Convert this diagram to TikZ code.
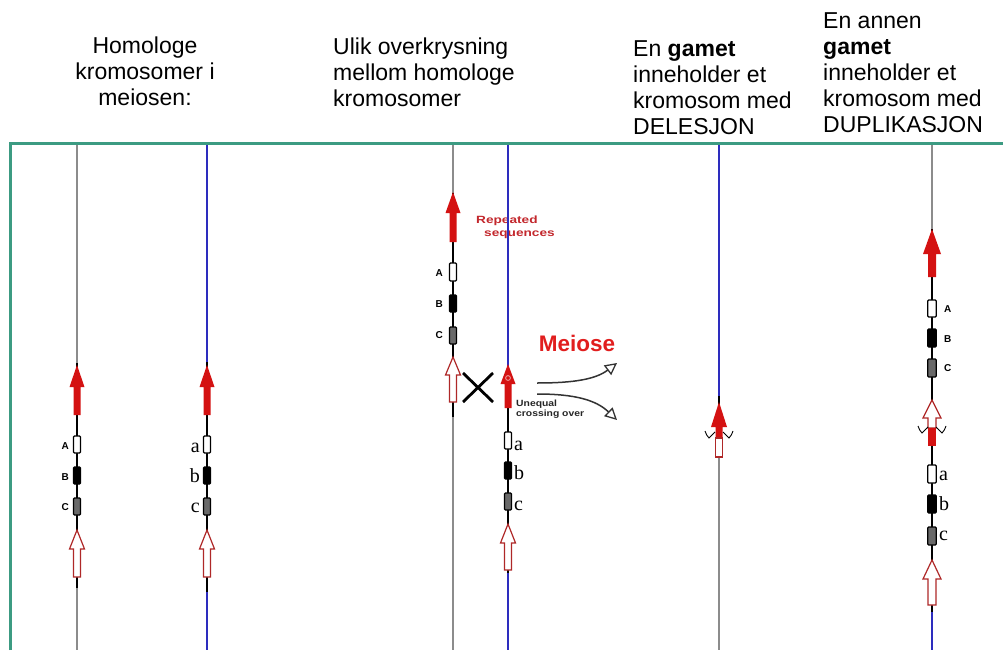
\documentclass[tikz,border=0pt]{standalone}
\usepackage{fontspec}
\setmainfont{Liberation Sans}
\newfontfamily\serifabc{Liberation Serif}
\usetikzlibrary{arrows.meta}

\definecolor{frameteal}{RGB}{60,155,130}
\definecolor{chromgrey}{RGB}{140,140,140}
\definecolor{chromblue}{RGB}{45,45,190}
\definecolor{seqred}{RGB}{212,18,18}
\definecolor{hollowred}{RGB}{175,40,40}
\definecolor{genegrey}{RGB}{105,105,105}
\definecolor{labelred}{RGB}{195,40,45}
\definecolor{meiosered}{RGB}{225,30,30}

% repeated sequence, filled: x, tip, head base, shaft end, head half width, shaft half width
\newcommand{\seqfilled}[6]{%
  \fill[seqred] (#1,#2) -- (#1+#5,#3) -- (#1+#6,#3) -- (#1+#6,#4) -- (#1-#6,#4)
    -- (#1-#6,#3) -- (#1-#5,#3) -- cycle;}
% repeated sequence, outlined
\newcommand{\seqhollow}[6]{%
  \filldraw[fill=white, draw=hollowred, line width=1.2pt, line join=miter]
    (#1,#2) -- (#1+#5,#3) -- (#1+#6,#3) -- (#1+#6,#4) -- (#1-#6,#4)
    -- (#1-#6,#3) -- (#1-#5,#3) -- cycle;}
% gene block: x, top, bottom, fill, half width
\newcommand{\geneblock}[5]{%
  \filldraw[fill=#4, draw=black, line width=1.3pt, rounded corners=1pt]
    (#1-#5,#2) rectangle (#1+#5,#3);}
% break marks on both sides of a chromosome
\newcommand{\breakmarks}[2]{%
  \draw[black, line width=0.9pt]
    (#1-14,#2-4) .. controls (#1-13,#2-1) and (#1-12,#2+1) .. (#1-10,#2+3)
      .. controls (#1-8,#2+1) and (#1-6,#2-1) .. (#1-4,#2-3)
    (#1+14,#2-4) .. controls (#1+13,#2-1) and (#1+12,#2+1) .. (#1+10,#2+3)
      .. controls (#1+8,#2+1) and (#1+6,#2-1) .. (#1+4,#2-3);}
% wide bold label text
\newcommand{\widetext}[1]{\scalebox{1.3}[1]{#1}}

\tikzset{
  chrom/.style={line width=2.8pt},
  heading/.style={font=\fontsize{23}{26}\selectfont, inner sep=0pt},
  caplabel/.style={font=\fontsize{10}{12}\selectfont\bfseries, inner sep=0pt},
  lowlabel/.style={font=\serifabc\fontsize{20}{22}\selectfont, inner sep=0pt},
  replabel/.style={font=\fontsize{10.5}{12}\selectfont\bfseries, text=labelred,
    anchor=west, inner sep=0pt},
  uneqlabel/.style={font=\fontsize{9}{10}\selectfont\bfseries, text=black!85,
    anchor=west, inner sep=0pt},
  curvearrow/.style={draw=black!80, line width=1.5pt,
    -{Triangle[open, length=12pt, width=12pt, line width=1.3pt]}},
}

\begin{document}
\begin{tikzpicture}[x=1pt, y=-1pt]
\useasboundingbox (0,0) rectangle (1003,650);
\fill[white] (0,0) rectangle (1003,650);

% ---------- headings ----------
\node[heading, anchor=north, align=center] (h1) at (145,37)
  {Homologe\\kromosomer i\\meiosen:};
\node[heading, anchor=north west, align=left] (h2) at (333,38)
  {Ulik overkrysning\\mellom homologe\\kromosomer};
\node[heading, anchor=north west, align=left] (h3) at (633,40)
  {En \textbf{gamet}\\inneholder et\\kromosom med\\DELESJON};
\node[heading, anchor=north west, align=left] (h4) at (823,12)
  {En annen\\\textbf{gamet}\\inneholder et\\kromosom med\\DUPLIKASJON};

% ---------- chromosome 1 (x=77) ----------
\draw[chrom, chromgrey] (77,143) -- (77,363);
\draw[chrom, black] (77,363) -- (77,588);
\draw[chrom, chromgrey] (77,588) -- (77,650);
\seqfilled{77}{365}{387}{415}{7.5}{3.5}
\geneblock{77}{436}{453}{white}{3.5}
\geneblock{77}{467}{484}{black}{3.5}
\geneblock{77}{498}{515}{genegrey}{3.5}
\seqhollow{77}{530}{549}{577}{7.5}{3.5}
\node[caplabel, anchor=east] (l1A) at (69,446) {A};
\node[caplabel, anchor=east] (l1B) at (69,477) {B};
\node[caplabel, anchor=east] (l1C) at (69,507) {C};

% ---------- chromosome 2 (x=207) ----------
\draw[chrom, chromblue] (207,143) -- (207,362);
\draw[chrom, black] (207,362) -- (207,592);
\draw[chrom, chromblue] (207,592) -- (207,650);
\seqfilled{207}{365}{387}{415}{7.5}{3.5}
\geneblock{207}{436}{453}{white}{3.5}
\geneblock{207}{467}{484}{black}{3.5}
\geneblock{207}{498}{515}{genegrey}{3.5}
\seqhollow{207}{530}{549}{577}{7.5}{3.5}
\node[lowlabel, anchor=base east] (l2a) at (200,452) {a};
\node[lowlabel, anchor=base east] (l2b) at (200,482) {b};
\node[lowlabel, anchor=base east] (l2c) at (200,512) {c};

% ---------- chromosome 3 (x=453) ----------
\draw[chrom, chromgrey] (453,143) -- (453,193);
\draw[chrom, black] (453,193) -- (453,417);
\draw[chrom, chromgrey] (453,417) -- (453,650);
\seqfilled{453}{192}{213}{242}{7.5}{3.5}
\geneblock{453}{263}{281}{white}{3.5}
\geneblock{453}{295}{312}{black}{3.5}
\geneblock{453}{327}{344}{genegrey}{3.5}
\seqhollow{453}{357}{375}{402}{7.5}{3.5}
\node[caplabel, anchor=east] (l3A) at (443,273) {A};
\node[caplabel, anchor=east] (l3B) at (443,304) {B};
\node[caplabel, anchor=east] (l3C) at (443,335) {C};

% labels over the crossing pair
\node[replabel, anchor=base west] (rep1) at (476,223) {\widetext{Repeated}};
\node[replabel, anchor=base west] (rep2) at (484,236) {\widetext{sequences}};

% ---------- chromosome 4 (x=508) ----------
\draw[chrom, chromblue] (508,143) -- (508,366);
\draw[chrom, black] (508,366) -- (508,573);
\draw[chrom, chromblue] (508,573) -- (508,650);
\seqfilled{508}{364}{384}{408}{7.5}{3.5}
\draw[white!55!seqred, line width=0.9pt] (508,378) circle (2.4);
\geneblock{508}{432}{449}{white}{3.5}
\geneblock{508}{462}{479}{black}{3.5}
\geneblock{508}{493}{510}{genegrey}{3.5}
\seqhollow{508}{524}{543}{570}{7.5}{3.5}
\node[lowlabel, anchor=base west] (l4a) at (514,450) {a};
\node[lowlabel, anchor=base west] (l4b) at (514,479) {b};
\node[lowlabel, anchor=base west] (l4c) at (514,510) {c};

% crossing mark
\coordinate (xa) at (463,373);
\coordinate (xb) at (493,402);
\coordinate (xc) at (463,402);
\coordinate (xd) at (493,373);
\draw[black, line width=2.8pt] (xa) -- (xb) (xc) -- (xd);

% meiosis label and the two products
\node[font=\fontsize{22.5}{24}\selectfont\bfseries, text=meiosered, inner sep=0pt]
  (meiose) at (577,343) {Meiose};
\coordinate (up0) at (537,383);
\coordinate (up1) at (617,363);
\coordinate (dn0) at (537,394);
\coordinate (dn1) at (617,420);
\draw[curvearrow] (up0) .. controls (575,383) and (596,379) .. (up1);
\draw[curvearrow] (dn0) .. controls (575,394) and (596,400) .. (dn1);
\node[uneqlabel, anchor=base west] (uneq1) at (516,406) {\scalebox{1.15}[1]{Unequal}};
\node[uneqlabel, anchor=base west] (uneq2) at (516,416) {\scalebox{1.15}[1]{crossing over}};

% ---------- chromosome 5: deletion (x=719) ----------
\draw[chrom, chromblue] (719,143) -- (719,396);
\draw[chrom, black] (719,396) -- (719,405);
\draw[chrom, chromgrey] (719,456) -- (719,650);
\seqfilled{719}{402}{427}{438}{8}{3.5}
\filldraw[fill=white, draw=hollowred, line width=1.2pt] (715.5,438) rectangle (722.5,457);
\breakmarks{719}{435}

% ---------- chromosome 6: duplication (x=932) ----------
\draw[chrom, chromgrey] (932,143) -- (932,229);
\draw[chrom, black] (932,229) -- (932,612);
\draw[chrom, chromblue] (932,612) -- (932,650);
\seqfilled{932}{229}{254}{277}{9}{4}
\geneblock{932}{300}{317}{white}{4.2}
\geneblock{932}{329}{347}{black}{4.2}
\geneblock{932}{359}{377}{genegrey}{4.2}
\node[caplabel, anchor=west] (l6A) at (944,309) {A};
\node[caplabel, anchor=west] (l6B) at (944,339) {B};
\node[caplabel, anchor=west] (l6C) at (944,368) {C};
\seqhollow{932}{400}{418}{428}{9}{4}
\fill[seqred] (928,428) rectangle (936,446);
\breakmarks{932}{430}
\geneblock{932}{465}{483}{white}{4.2}
\geneblock{932}{495}{513}{black}{4.2}
\geneblock{932}{527}{545}{genegrey}{4.2}
\node[lowlabel, anchor=base west] (l6a) at (939,480) {a};
\node[lowlabel, anchor=base west] (l6b) at (939,510) {b};
\node[lowlabel, anchor=base west] (l6c) at (939,540) {c};
\seqhollow{932}{560}{579}{605}{9}{4}

% ---------- frame ----------
\draw[frameteal, line width=3pt] (10,650) -- (10,143) -- (1003,143);
\end{tikzpicture}
\end{document}
